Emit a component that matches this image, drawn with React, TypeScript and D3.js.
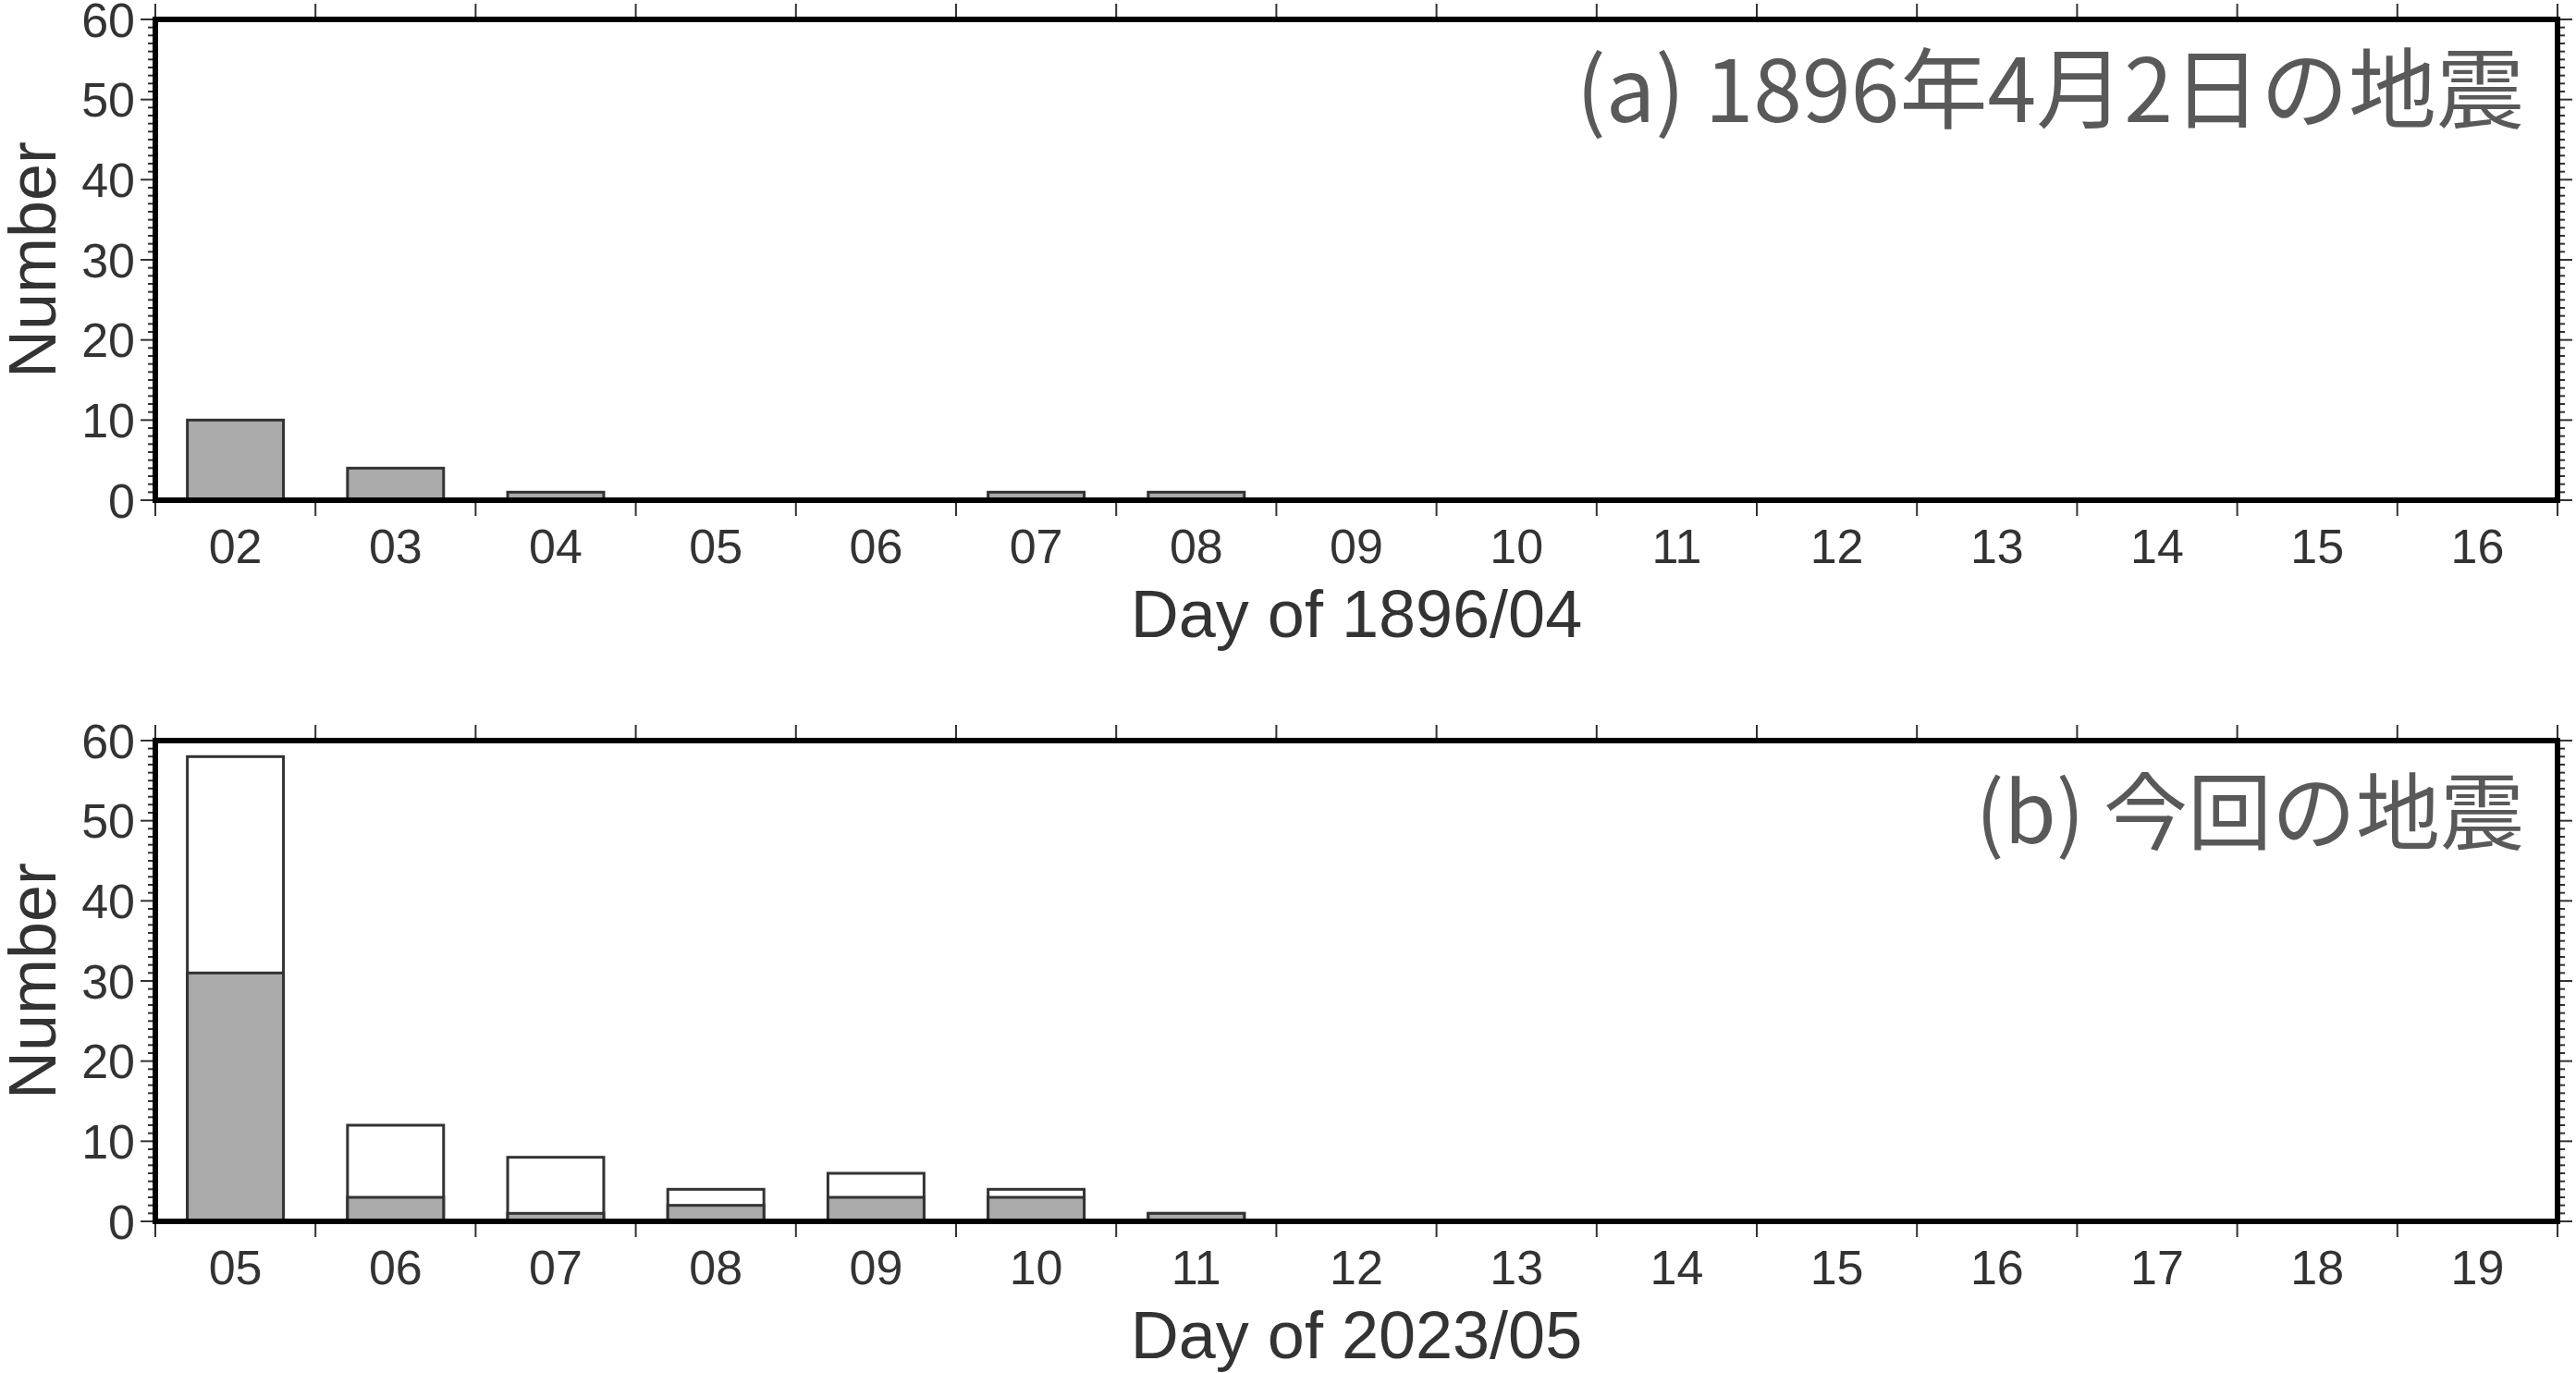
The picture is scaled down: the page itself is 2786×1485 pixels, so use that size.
import { useEffect } from "react";
import * as d3 from "d3";

// Daily counts, panel (a): 1896/04 (days 02-16, data only up to 08)
const days1896 = ["02", "03", "04", "05", "06", "07", "08", "09", "10", "11", "12", "13", "14", "15", "16"];
const counts1896 = [10, 4, 1, 0, 0, 1, 1];

// Daily counts, panel (b): 2023/05 (days 05-19, data only up to 11)
const days2023 = ["05", "06", "07", "08", "09", "10", "11", "12", "13", "14", "15", "16", "17", "18", "19"];
const total2023 = [58, 12, 8, 4, 6, 4, 1];
const gray2023 = [31, 3, 1, 2, 3, 3, 1];

const yMajor = d3.range(0, 61, 10);
const yMinor = d3.range(0, 61, 1);

const W = 2786;
const H = 1485;
const LEFT = 168;
const RIGHT = 2766;
const PANEL_H = 520;

const axisFont = "'Liberation Sans', Arial, Helvetica, sans-serif";
const titleFont = "'Noto Sans CJK JP', 'Noto Sans', sans-serif";
const ink = "#333";

interface PanelProps {
  top: number;
  days: string[];
  white?: number[];
  gray: number[];
  title: string;
  titleSize: number;
  xTitle: string;
}

const Panel = ({ top, days, white, gray, title, titleSize, xTitle }: PanelProps) => {
  const bottom = top + PANEL_H;
  const x = d3.scaleBand().domain(days).range([LEFT, RIGHT]).paddingInner(0.4).paddingOuter(0.2);
  const y = d3.scaleLinear().domain([0, 60]).range([bottom, top]);
  const step = x.step();
  const bounds = d3.range(0, days.length + 1).map(i => LEFT + i * step);

  return (
    <g>
      {/* bars: total (white) behind, subset (gray) in front */}
      {white && white.map((v, i) => (
        <rect key={"w" + i} x={x(days[i])} y={y(v)} width={x.bandwidth()} height={y(0) - y(v)}
          fill="#fff" stroke={ink} strokeWidth={3} />
      ))}
      {gray.map((v, i) => (
        <rect key={"g" + i} x={x(days[i])} y={y(v) - (v === 0 ? 2 : 0)} width={x.bandwidth()}
          height={y(0) - y(v)} fill="#aaaaaa" stroke={ink} strokeWidth={3} />
      ))}

      {/* title */}
      <text x={RIGHT - 36} y={top + 111} textAnchor="end" fontFamily={titleFont} fontSize={titleSize} fill="#595959">
        {title}
      </text>

      {/* y ticks, both sides */}
      {yMinor.map(v => {
        const len = v % 10 === 0 ? 16 : 8;
        return (
          <g key={"yt" + v} stroke={ink} strokeWidth={2}>
            <line x1={LEFT - len} x2={LEFT} y1={y(v)} y2={y(v)} />
            <line x1={RIGHT} x2={RIGHT + len} y1={y(v)} y2={y(v)} />
          </g>
        );
      })}
      {yMajor.map(v => (
        <text key={"yl" + v} x={146} y={y(v)} dy="0.36em" textAnchor="end" fontFamily={axisFont}
          fontSize={52} fill={ink}>{v}</text>
      ))}

      {/* x ticks at day boundaries, top and bottom */}
      {bounds.map((bx, i) => (
        <g key={"xt" + i} stroke={ink} strokeWidth={2}>
          <line x1={bx} x2={bx} y1={bottom} y2={bottom + 17} />
          <line x1={bx} x2={bx} y1={top - 17} y2={top} />
        </g>
      ))}
      {days.map(d => (
        <text key={"xl" + d} x={(x(d) ?? 0) + x.bandwidth() / 2} y={bottom + 68} textAnchor="middle"
          fontFamily={axisFont} fontSize={52} fill={ink}>{d}</text>
      ))}

      {/* frame */}
      <rect x={LEFT} y={top} width={RIGHT - LEFT} height={PANEL_H} fill="none" stroke="#000" strokeWidth={6} />

      {/* axis titles */}
      <text x={(LEFT + RIGHT) / 2} y={bottom + 148} textAnchor="middle" fontFamily={axisFont}
        fontSize={72} fill={ink}>{xTitle}</text>
      <text transform={`translate(60,${(top + bottom) / 2}) rotate(-90)`} textAnchor="middle"
        fontFamily={axisFont} fontSize={72} fill={ink}>Number</text>
    </g>
  );
};

export default function App() {
  useEffect(() => {
    document.body.style.margin = "0";
  }, []);

  return (
    <svg width={W} height={H} viewBox={`0 0 ${W} ${H}`} style={{ display: "block", background: "#fff" }}>
      <rect width={W} height={H} fill="#fff" />
      <Panel top={21} days={days1896} gray={counts1896} title="(a) 1896年4月2日の地震" titleSize={95}
        xTitle="Day of 1896/04" />
      <Panel top={801} days={days2023} white={total2023} gray={gray2023} title="(b) 今回の地震" titleSize={91}
        xTitle="Day of 2023/05" />
    </svg>
  );
}
